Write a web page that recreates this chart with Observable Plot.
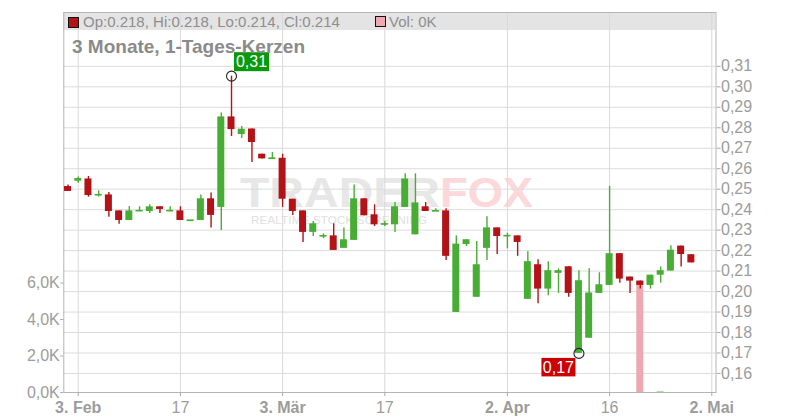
<!DOCTYPE html>
<html>
<head>
<meta charset="utf-8">
<script src="https://cdn.jsdelivr.net/npm/d3@7"></script>
<script src="https://cdn.jsdelivr.net/npm/@observablehq/plot@0.6"></script>
<style>
  body { margin: 0; background: #fff; font-family: "Liberation Sans", Arial, sans-serif; }
  #wrap { position: relative; width: 800px; height: 420px; overflow: hidden; }
  #wrap > * { position: absolute; left: 0; top: 0; }
  #hdrbg { left: 63px; top: 12px; width: 652px; height: 18px; background: #e4e4e4; }
  #hdr { left: 68px; top: 14px; height: 15px; font-size: 15px; color: #8e8e8e; white-space: nowrap; line-height: 15px; }
  #hdr .sq { display: inline-block; width: 9px; height: 9px; border: 1px solid #111; vertical-align: -1px; margin-right: 4px; }
  #sub { left: 72px; top: 36px; font-size: 19px; font-weight: bold; color: #8a8a8a; white-space: nowrap; }
</style>
</head>
<body>
<div id="wrap">
  <div id="hdrbg"></div>
  <svg id="wm" width="800" height="420" style="font-family:'Liberation Sans',Arial,sans-serif">
    <text x="240" y="207" font-size="42" font-weight="bold" fill="#e7e7e7" textLength="200" lengthAdjust="spacingAndGlyphs">TRADER</text>
    <text x="440" y="207" font-size="42" font-weight="bold" fill="#fcd8db" textLength="93" lengthAdjust="spacingAndGlyphs">FOX</text>
    <text x="251" y="223.5" font-size="11.5" fill="#e0e0e0" textLength="176" lengthAdjust="spacing">REALTIME STOCK SCREENING</text>
  </svg>
</div>
<script>
// ---------- data ----------
const dates = [
  "2025-01-31",
  "2025-02-03","2025-02-04","2025-02-05","2025-02-06","2025-02-07",
  "2025-02-10","2025-02-11","2025-02-12","2025-02-13","2025-02-14",
  "2025-02-17","2025-02-18","2025-02-19","2025-02-20","2025-02-21",
  "2025-02-24","2025-02-25","2025-02-26","2025-02-27","2025-02-28",
  "2025-03-03","2025-03-04","2025-03-05","2025-03-06","2025-03-07",
  "2025-03-10","2025-03-11","2025-03-12","2025-03-13","2025-03-14",
  "2025-03-17","2025-03-18","2025-03-19","2025-03-20","2025-03-21",
  "2025-03-24","2025-03-25","2025-03-26","2025-03-27","2025-03-28",
  "2025-03-31","2025-04-01","2025-04-02","2025-04-03","2025-04-04",
  "2025-04-07","2025-04-08","2025-04-09","2025-04-10","2025-04-11",
  "2025-04-14","2025-04-15","2025-04-16","2025-04-17",
  "2025-04-22","2025-04-23","2025-04-24","2025-04-25",
  "2025-04-28","2025-04-29","2025-04-30"
];
const open = [
  0.2513,
  0.2539,0.2550,0.2471,0.2472,0.2394,
  0.2347,0.2393,0.2391,0.2414,0.2393,
  0.2394,0.2347,0.2347,0.2453,0.2411,
  0.2853,0.2767,0.2794,0.2671,0.2649,
  0.2651,0.2451,0.2394,0.2289,0.2270,
  0.2272,0.2211,0.2250,0.2453,0.2375,
  0.2328,0.2326,0.2411,0.2277,0.2414,
  0.2392,0.2394,0.1898,0.2230,0.1972,
  0.2211,0.2311,0.2271,0.2272,0.1962,
  0.2131,0.2012,0.2089,0.2121,0.1698,
  0.1772,0.1991,0.2030,0.2185,
  0.2071,0.2051,0.2030,0.2080,
  0.2100,0.2222,0.2180
];
const high = [
  0.2521,
  0.2559,0.2562,0.2492,0.2484,0.2394,
  0.2415,0.2414,0.2424,0.2414,0.2414,
  0.2414,0.2348,0.2472,0.2482,0.2872,
  0.3052,0.2806,0.2794,0.2671,0.2679,
  0.2671,0.2451,0.2394,0.2342,0.2282,
  0.2331,0.2311,0.2521,0.2453,0.2424,
  0.2342,0.2435,0.2575,0.2575,0.2435,
  0.2404,0.2404,0.2272,0.2253,0.2245,
  0.2365,0.2311,0.2285,0.2272,0.2194,
  0.2155,0.2146,0.2111,0.2121,0.2102,
  0.2111,0.2092,0.2513,0.2185,
  0.2071,0.2051,0.2080,0.2120,
  0.2224,0.2222,0.2180
];
const low = [
  0.2489,
  0.2529,0.2461,0.2461,0.2363,0.2329,
  0.2347,0.2393,0.2381,0.2381,0.2393,
  0.2347,0.2347,0.2347,0.2310,0.2298,
  0.2757,0.2747,0.2630,0.2648,0.2649,
  0.2411,0.2372,0.2240,0.2269,0.2259,
  0.2201,0.2211,0.2250,0.2370,0.2318,
  0.2318,0.2289,0.2411,0.2277,0.2391,
  0.2392,0.2152,0.1898,0.2220,0.1972,
  0.2152,0.2181,0.2209,0.2172,0.1962,
  0.1941,0.1980,0.1991,0.1972,0.1698,
  0.1772,0.1991,0.2030,0.2041,
  0.1991,0.2012,0.2012,0.2041,
  0.2100,0.2120,0.2140
];
const close = [
  0.2489,
  0.2552,0.2469,0.2473,0.2391,0.2347,
  0.2394,0.2395,0.2414,0.2401,0.2395,
  0.2347,0.2348,0.2453,0.2372,0.2853,
  0.2791,0.2793,0.2728,0.2648,0.2651,
  0.2451,0.2391,0.2289,0.2331,0.2272,
  0.2201,0.2253,0.2453,0.2370,0.2326,
  0.2330,0.2414,0.2550,0.2433,0.2391,
  0.2394,0.2172,0.2232,0.2253,0.2131,
  0.2311,0.2269,0.2273,0.2240,0.2146,
  0.2012,0.2102,0.2102,0.1991,0.2053,
  0.1993,0.2033,0.2185,0.2061,
  0.2051,0.2030,0.2080,0.2102,
  0.2202,0.2181,0.2140
];
const volume = [
  0,
  0,0,0,0,0,
  0,0,0,0,0,
  0,0,0,0,0,
  0,0,0,0,0,
  0,0,0,0,0,
  0,0,0,0,0,
  0,0,0,0,0,
  0,0,0,0,0,
  0,0,0,0,0,
  0,0,0,0,0,
  0,0,0,0,
  0,6100,0,60,
  0,0,0
];
// empty trading slots after the last candle, shown on the axis
const futureSlots = ["2025-05-01","2025-05-02"];
const monthTicks = ["2025-02-03","2025-03-03","2025-04-02","2025-05-02"];
const monthLabels = ["3. Feb","3. Mär","2. Apr","2. Mai"];
const dayTicks = ["2025-02-17","2025-03-17","2025-04-16"];
const dayLabels = ["17","17","16"];
const priceTicks = [0.16,0.17,0.18,0.19,0.20,0.21,0.22,0.23,0.24,0.25,0.26,0.27,0.28,0.29,0.30,0.31];
const volTicks = [0,2000,4000,6000];
const subtitle = "3 Monate, 1-Tages-Kerzen";

// ---------- styling ----------
const GREEN = "#48ad34", RED = "#b31217";
const VOL_GREEN = "#b3dcab", VOL_RED = "#f0a8b0";
const FONT = "'Liberation Sans', Arial, sans-serif";
const W = 800, H = 420;
const margins = {marginTop: 12, marginRight: 84.5, marginBottom: 28, marginLeft: 63.3};
const xOpt = {type: "band", domain: dates.concat(futureSlots), paddingInner: 0.315, paddingOuter: 0.07, align: 0.5, round: false};
const priceDomain = [0.1507, 0.3363];
const volDomain = [0, 20822];

const candles = dates.map((d, i) => ({
  date: d, open: open[i], high: high[i], low: low[i], close: close[i],
  volume: volume[i], up: close[i] >= open[i]
}));
const fmtPrice = d => d.toFixed(2).replace(".", ",");
const lblMap = new Map([...monthTicks.map((d, i) => [d, monthLabels[i]]), ...dayTicks.map((d, i) => [d, dayLabels[i]])]);

const baseStyle = {background: "transparent", fontFamily: FONT, fontSize: "16px", color: "#9c9c9c", overflow: "visible"};

// grid + axes layer
const gridPlot = Plot.plot({
  width: W, height: H, ...margins, style: baseStyle,
  x: {...xOpt, axis: null, label: null},
  y: {domain: priceDomain, axis: null, label: null},
  marks: [
    Plot.gridX({ticks: monthTicks.concat(dayTicks), stroke: "#d9d9d9", strokeOpacity: 1}),
    Plot.gridY({ticks: priceTicks, stroke: "#dcdcdc", strokeOpacity: 1}),
    Plot.frame({stroke: "#b5b5b5"}),
    Plot.axisY({anchor: "right", label: null, ticks: priceTicks, tickFormat: fmtPrice, tickSize: 4, tickPadding: 1, fontSize: 16, stroke: "#aaa"}),
    Plot.axisX({ticks: monthTicks, label: null, tickFormat: d => lblMap.get(d), tickSize: 4, tickPadding: 5, fontSize: 16, fontWeight: "bold", stroke: "#aaa"}),
    Plot.axisX({ticks: dayTicks, label: null, tickFormat: d => lblMap.get(d), tickSize: 4, tickPadding: 5, fontSize: 16, stroke: "#aaa"})
  ]
});

// volume layer
const volPlot = Plot.plot({
  width: W, height: H, ...margins, style: baseStyle,
  x: {...xOpt, axis: null, label: null},
  y: {domain: volDomain, axis: null, label: null},
  color: {type: "identity"},
  marks: [
    Plot.barY(candles, {x: "date", y: "volume", fill: d => d.up ? VOL_GREEN : VOL_RED}),
    Plot.axisY({anchor: "left", label: null, ticks: volTicks, tickFormat: d => (d / 1000).toFixed(1).replace(".", ",") + "K", tickSize: 3, tickPadding: 1, fontSize: 16, stroke: "#aaa"})
  ]
});

// candles layer
const hiPt = candles.reduce((a, b) => b.high > a.high ? b : a);
const loPt = candles.reduce((a, b) => b.low < a.low ? b : a);
const doji = candles.filter(d => Math.abs(d.close - d.open) < 0.0004);
const candlePlot = Plot.plot({
  width: W, height: H, ...margins, style: baseStyle,
  x: {...xOpt, axis: null, label: null},
  y: {domain: priceDomain, axis: null, label: null},
  color: {type: "identity"},
  marks: [
    Plot.ruleX(candles, {x: "date", y1: "low", y2: "high", stroke: d => d.up ? GREEN : RED, strokeWidth: 1.4}),
    Plot.barY(candles, {x: "date", y1: "open", y2: "close", fill: d => d.up ? GREEN : RED}),
    Plot.tickY(doji, {x: "date", y: "close", stroke: d => d.up ? GREEN : RED, strokeWidth: 1.6}),
    Plot.dot([hiPt], {x: "date", y: "high", r: 5, stroke: "#222", fill: "none", strokeWidth: 1.1}),
    Plot.dot([loPt], {x: "date", y: "low", r: 5, stroke: "#222", fill: "none", strokeWidth: 1.1})
  ]
});

// value flags next to the extreme points
{
  const sx = candlePlot.scale("x"), sy = candlePlot.scale("y");
  const cx = d => sx.apply(d) + sx.bandwidth / 2;
  const svg = d3.select(candlePlot);
  const flag = (x, y, w, h, fill, txt) => {
    svg.append("rect").attr("x", x).attr("y", y).attr("width", w).attr("height", h).attr("fill", fill);
    svg.append("text").attr("x", x + w / 2).attr("y", y + h / 2).attr("dy", "0.36em")
      .attr("text-anchor", "middle").attr("fill", "#fff").attr("font-size", 16).attr("font-family", FONT)
      .text(txt);
  };
  const hx = cx(hiPt.date), hy = sy.apply(hiPt.high);
  flag(hx + 3, hy - 23.5, 35, 19, "#079a07", fmtPrice(hiPt.high));
  const lx = cx(loPt.date), ly = sy.apply(loPt.low);
  flag(lx - 37, ly + 5, 34, 18.5, "#cc0000", fmtPrice(loPt.low));
}

const wrap = document.getElementById("wrap");
wrap.appendChild(gridPlot);
wrap.appendChild(volPlot);
wrap.appendChild(candlePlot);

// header legend (last candle) and subtitle
const last = candles[candles.length - 1];
const hdr = document.createElement("div");
hdr.id = "hdr";
const f3 = v => v.toFixed(3);
hdr.innerHTML =
  `<span class="sq" style="background:${last.up ? GREEN : RED}"></span>` +
  `<span>Op:${f3(last.open)}, Hi:${f3(last.high)}, Lo:${f3(last.low)}, Cl:${f3(last.close)}</span>` +
  `<span class="sq" style="background:${last.up ? VOL_GREEN : VOL_RED};position:absolute;left:307px;top:2px"></span>` +
  `<span style="position:absolute;left:321px;top:0">Vol: ${(last.volume / 1000).toFixed(0)}K</span>`;
wrap.appendChild(hdr);
const sub = document.createElement("div");
sub.id = "sub";
sub.textContent = subtitle;
wrap.appendChild(sub);
</script>
</body>
</html>
